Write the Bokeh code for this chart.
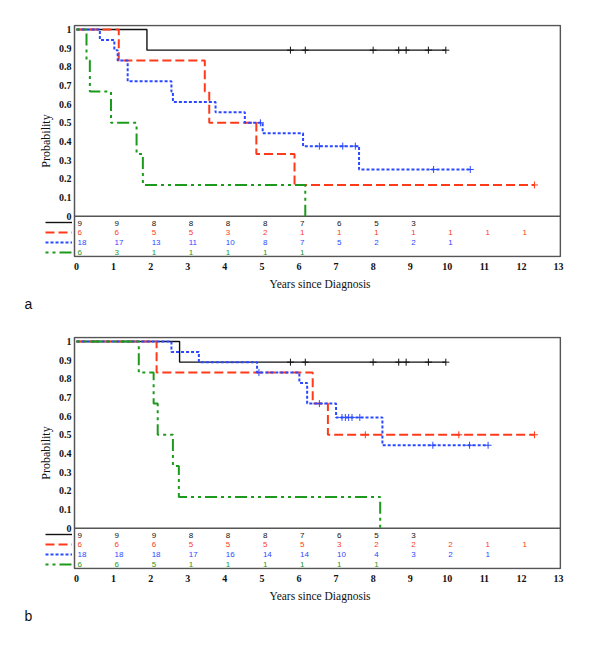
from bokeh.plotting import figure
from bokeh.layouts import column
from bokeh.models import (Range1d, FixedTicker, Legend, LegendItem, Title,
                          ColumnDataSource)
from bokeh.core.properties import value
from bokeh.embed import file_html
from bokeh.resources import INLINE

# ---------------- data ----------------
groups = ["black", "red", "blue", "green"]

# Panel a : step-change times and survival probabilities
a_black_t = [0, 1.90, 9.96]
a_black_s = [1, 0.889, 0.889]
a_black_c = [5.77, 6.17, 8.0, 8.69, 8.89, 9.49, 9.96]

a_red_t = [0, 1.14, 3.46, 3.58, 4.85, 5.88, 12.35]
a_red_s = [1, 0.833, 0.667, 0.5, 0.333, 0.167, 0.167]
a_red_c = [12.35]

a_blue_t = [0, 0.63, 1.02, 1.11, 1.38, 2.56, 2.60, 3.75, 4.54, 5.02, 6.11, 7.62, 10.62]
a_blue_s = [1, 0.944, 0.889, 0.833, 0.722, 0.667, 0.611, 0.556, 0.5, 0.444, 0.375, 0.25, 0.25]
a_blue_c = [4.96, 6.55, 7.18, 7.52, 9.63, 10.62]

a_green_t = [0, 0.27, 0.36, 0.93, 1.62, 1.79, 6.17]
a_green_s = [1, 0.833, 0.667, 0.5, 0.333, 0.167, 0]
a_green_c = []

a_risk_black = [9, 9, 8, 8, 8, 8, 7, 6, 5, 3]
a_risk_red = [6, 6, 5, 5, 3, 2, 1, 1, 1, 1, 1, 1, 1]
a_risk_blue = [18, 17, 13, 11, 10, 8, 7, 5, 2, 2, 1]
a_risk_green = [6, 3, 1, 1, 1, 1, 1]

# Panel b
b_black_t = [0, 2.78, 9.96]
b_black_s = [1, 0.889, 0.889]
b_black_c = [5.77, 6.17, 8.0, 8.69, 8.89, 9.49, 9.96]

b_red_t = [0, 2.16, 6.37, 6.78, 12.35]
b_red_s = [1, 0.833, 0.667, 0.5, 0.5]
b_red_c = [7.79, 10.31, 12.35]

b_blue_t = [0, 2.56, 3.30, 4.87, 6.01, 6.22, 7.00, 8.25, 11.10]
b_blue_s = [1, 0.944, 0.889, 0.833, 0.778, 0.667, 0.593, 0.444, 0.444]
b_blue_c = [4.92, 6.55, 7.16, 7.25, 7.34, 7.43, 7.64, 9.61, 10.6, 11.1]

b_green_t = [0, 1.68, 2.08, 2.19, 2.60, 2.76, 8.19]
b_green_s = [1, 0.833, 0.667, 0.5, 0.333, 0.167, 0]
b_green_c = []

b_risk_black = [9, 9, 9, 8, 8, 8, 7, 6, 5, 3]
b_risk_red = [6, 6, 6, 5, 5, 5, 5, 3, 2, 2, 2, 1, 1]
b_risk_blue = [18, 18, 18, 17, 16, 14, 14, 10, 4, 3, 2, 1]
b_risk_green = [6, 6, 5, 1, 1, 1, 1, 1, 1]

y_ticks = [0, 0.1, 0.2, 0.3, 0.4, 0.5, 0.6, 0.7, 0.8, 0.9, 1]
y_tick_labels = ["0", "0.1", "0.2", "0.3", "0.4", "0.5", "0.6", "0.7", "0.8", "0.9", "1"]
x_ticks = list(range(0, 14))
x_tick_labels = [str(v) for v in x_ticks]
x_title = "Years since Diagnosis"
y_title = "Probability"

# ---------------- styles / layout ----------------
COLORS = {"black": "#111111", "red": "#ff3a1a", "blue": "#2a48ff", "green": "#1c9a1c"}
DASH = {"black": "solid", "red": "9 4", "blue": "3 2", "green": "3 4 3 4 12 4"}
WIDTH = {"black": 1.4, "red": 2.0, "blue": 2.0, "green": 2.0}
ROW_Y = {"black": -0.038, "red": -0.088, "blue": -0.141, "green": -0.193}
SERIF = "Liberation Serif"
PX_X = 37.08      # pixels per year
PX_Y = 186.7      # pixels per unit probability
LEFT = 28         # canvas x of the frame's left edge
X0 = -1.2945      # data x at the frame's left edge (room for axis title and key)
Y0 = -0.2215      # bottom of the frame (room for numbers at risk)
FW, FH = 533, 233
BOX = (-0.054, 13.05, -0.216, 1.021)   # drawn frame: left, right, bottom, top


def panel(curves, risks, letter, top_border, bottom_border):
    p = figure(frame_width=FW, frame_height=FH,
               x_range=Range1d(X0, X0 + FW / PX_X), y_range=Range1d(Y0, Y0 + FH / PX_Y),
               min_border_left=LEFT, min_border_right=23,
               min_border_top=top_border, min_border_bottom=bottom_border,
               output_backend="svg", toolbar_location=None)
    p.grid.visible = False
    p.outline_line_color = None
    p.background_fill_color = "white"
    p.border_fill_color = "white"

    for ax in (p.xaxis[0], p.yaxis[0]):
        ax.axis_line_color = None
        ax.major_tick_line_color = None
        ax.minor_tick_line_color = None
        ax.major_tick_out = 0
        ax.major_tick_in = 0
        ax.minor_tick_out = 0
        ax.minor_tick_in = 0
        ax.major_label_text_font = SERIF
        ax.major_label_text_font_style = "bold"
        ax.major_label_text_font_size = "10px"
        ax.major_label_text_color = "#111111"
        ax.axis_label_text_font = SERIF
        ax.axis_label_text_font_style = "normal"
        ax.axis_label_text_font_size = "12px"
        ax.axis_label_text_color = "#111111"

    p.yaxis.ticker = FixedTicker(ticks=y_ticks)
    p.yaxis.major_label_overrides = {t: l for t, l in zip(y_ticks, y_tick_labels)}
    p.yaxis.major_label_standoff = 3
    p.yaxis.axis_label = y_title
    p.yaxis.axis_label_standoff = 3
    p.yaxis.fixed_location = BOX[0]

    p.xaxis.ticker = FixedTicker(ticks=x_ticks)
    p.xaxis.major_label_overrides = {t: l for t, l in zip(x_ticks, x_tick_labels)}
    p.xaxis.major_label_standoff = 5

    # frame box and zero line
    p.quad(left=[BOX[0]], right=[BOX[1]], bottom=[BOX[2]], top=[BOX[3]],
           fill_color=None, line_color="#555555", line_width=1.5)
    p.segment(x0=[BOX[0]], x1=[BOX[1]], y0=[0], y1=[0], line_color="#555555", line_width=1.5)

    renderers = {}
    for g in groups:
        t, s, c = curves[g]
        renderers[g] = p.step(x=t, y=s, mode="after", line_color=COLORS[g],
                              line_width=WIDTH[g], line_dash=DASH[g])
        if c:
            cy = []
            for ct in c:
                val = s[0]
                for tt, ss in zip(t, s):
                    if tt <= ct:
                        val = ss
                cy.append(val)
            p.scatter(x=c, y=cy, marker="cross", size=7, line_color=COLORS[g], line_width=1)

    for g in groups:
        counts = risks[g]
        src = ColumnDataSource(dict(x=list(range(len(counts))), y=[ROW_Y[g]] * len(counts),
                                    t=[str(v) for v in counts]))
        p.text(x="x", y="y", text="t", source=src, text_color=COLORS[g],
               text_font_size="8px", text_align="left", text_baseline="middle",
               x_offset=1)

    # line-style key to the left of the numbers-at-risk rows
    legend = Legend(items=[LegendItem(label=value(""), renderers=[renderers[g]]) for g in groups],
                    location=(45 - LEFT, 0), orientation="vertical",
                    glyph_width=27, glyph_height=10, label_height=10, label_width=0,
                    label_standoff=0, spacing=0, padding=0, margin=0,
                    border_line_color=None, background_fill_alpha=0,
                    label_text_font_size="1px")
    p.add_layout(legend)

    p.add_layout(Title(text=x_title, align="left", offset=269 - LEFT, text_font=SERIF,
                       text_font_size="11.5px", text_font_style="normal",
                       text_color="#111111", standoff=6), "below")
    p.add_layout(Title(text=letter, align="left", offset=24 - LEFT, text_font="Liberation Sans",
                       text_font_size="14px", text_font_style="normal",
                       text_color="#111111", standoff=2), "below")
    return p


pa = panel({"black": (a_black_t, a_black_s, a_black_c),
            "red": (a_red_t, a_red_s, a_red_c),
            "blue": (a_blue_t, a_blue_s, a_blue_c),
            "green": (a_green_t, a_green_s, a_green_c)},
           {"black": a_risk_black, "red": a_risk_red, "blue": a_risk_blue, "green": a_risk_green},
           "a", 24, 63)

pb = panel({"black": (b_black_t, b_black_s, b_black_c),
            "red": (b_red_t, b_red_s, b_red_c),
            "blue": (b_blue_t, b_blue_s, b_blue_c),
            "green": (b_green_t, b_green_s, b_green_c)},
           {"black": b_risk_black, "red": b_risk_red, "blue": b_risk_blue, "green": b_risk_green},
           "b", 16, 73)

layout = column(pa, pb, spacing=0)
open("out.html", "w").write(file_html(layout, INLINE))
